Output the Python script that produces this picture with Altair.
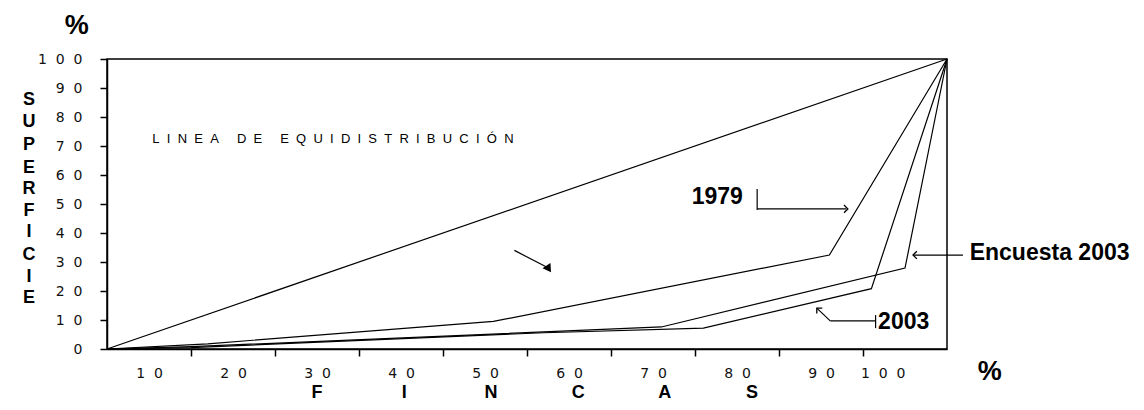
import altair as alt
import pandas as pd

# ---------------- data (% fincas on x, % superficie on y) ----------------
eq_x = [0, 100]
eq_y = [0, 100]
c1979_x = [0, 12, 46, 86, 100]
c1979_y = [0, 1.8, 9.5, 32.4, 100]
enc_x = [0, 10, 66, 95, 100]
enc_y = [0, 0.8, 7.6, 27.9, 100]
c2003_x = [0, 10, 52, 71, 91, 100]
c2003_y = [0, 0.5, 5.6, 7.2, 20.8, 100]

x_ticks = [10, 20, 30, 40, 50, 60, 70, 80, 90, 100]
y_ticks = [0, 10, 20, 30, 40, 50, 60, 70, 80, 90, 100]

# axis title letters
y_title_letters = list("SUPERFICIE")
x_title_letters = list("FINCAS")

# annotation texts
lab_1979 = "1979"
lab_enc = "Encuesta 2003"
lab_2003 = "2003"
lab_eq = "LINEA DE EQUIDISTRIBUCIÓN"

NB = "\u00a0"

rows = []
for name, xs, ys in [("eq", eq_x, eq_y), ("1979", c1979_x, c1979_y),
                     ("enc", enc_x, enc_y), ("2003", c2003_x, c2003_y)]:
    for i, (a, b) in enumerate(zip(xs, ys)):
        rows.append({"serie": name, "x": a, "y": b, "o": i})
df = pd.DataFrame(rows)

FONT = "Liberation Sans"
spaced = "join(split(datum.label, ''), '" + NB + NB + "')"

X_AXIS = alt.Axis(
    values=x_ticks, title=None, grid=False, labelOverlap=False,
    labelExpr=spaced,
    labelOffset=-42, labelPadding=10, tickSize=7, tickWidth=1.5,
    tickColor={"condition": {"test": "datum.value == 100", "value": "transparent"}, "value": "black"},
    domainColor="black", domainWidth=1.5,
    labelFont="DejaVu Sans", labelFontSize=14, labelColor="#111")
Y_AXIS = alt.Axis(
    values=y_ticks, title=None, grid=False, labelOverlap=False,
    labelExpr=spaced,
    labelPadding=18, tickSize=7, tickWidth=1.5, tickColor="black",
    domainColor="black", domainWidth=1.5,
    labelFont="DejaVu Sans", labelFontSize=14, labelColor="#111")
XS = alt.Scale(domain=[0, 100], nice=False, zero=False)
YS = alt.Scale(domain=[0, 100], nice=False, zero=False)


def X(f):
    return alt.X(f, type="quantitative", scale=XS, axis=X_AXIS)


def Y(f):
    return alt.Y(f, type="quantitative", scale=YS, axis=Y_AXIS)


lines = alt.Chart(df).mark_line(color="black", strokeWidth=1.2).encode(
    x=X("x"), y=Y("y"), detail="serie:N", order="o:Q")

# --- annotation layers ---
ann_pos = pd.DataFrame({
    "t": [lab_1979, lab_enc, lab_2003],
    "x": [69.6, 102.7, 91.8],
    "y": [52.4, 33.1, 9.3],
})
ann = alt.Chart(ann_pos).mark_text(font=FONT, fontWeight="bold", fontSize=23,
                                   align="left", baseline="middle", color="black").encode(
    x=X("x"), y=Y("y"), text="t:N")

pct = pd.DataFrame({"t": ["%", "%"], "x": [-3.6, 105.1], "y": [111.4, -7.9]})
pct_txt = alt.Chart(pct).mark_text(font=FONT, fontWeight="bold", fontSize=27,
                                   align="center", baseline="middle", color="black").encode(
    x=X("x"), y=Y("y"), text="t:N")

ytl = pd.DataFrame({"t": y_title_letters, "x": [-9.3] * 10,
                    "y": [85.9, 78.3, 70.3, 62.4, 55.2, 47.6, 40.3, 32.4, 24.8, 17.6]})
xtl = pd.DataFrame({"t": x_title_letters, "x": [25, 35.4, 45.7, 56.1, 66.4, 76.8],
                    "y": [-15.3] * 6})
letters = alt.Chart(pd.concat([ytl, xtl])).mark_text(font=FONT, fontWeight="bold", fontSize=18,
                                                     align="center", baseline="middle",
                                                     color="black").encode(
    x=X("x"), y=Y("y"), text="t:N")

eq_text = (NB * 5).join((NB * 2).join(list(w)) for w in lab_eq.split(" "))
eq_df = pd.DataFrame({"t": [eq_text], "x": [5.4], "y": [72.4]})
eq_lab = alt.Chart(eq_df).mark_text(font=FONT, fontSize=13, align="left",
                                    baseline="middle", color="black").encode(
    x=X("x"), y=Y("y"), text="t:N")

# leader lines for the labels
seg = pd.DataFrame({
    "x": [77.4, 77.4, 95.95, 91.5, 91.5, 86.1, 48.5],
    "y": [55.2, 48.3, 32.4, 11.7, 9.7, 9.7, 34.0],
    "x2": [77.4, 88.0, 101.9, 91.5, 86.1, 84.5, 52.5],
    "y2": [47.9, 48.3, 32.4, 7.2, 9.7, 14.1, 28.0],
})
leaders = alt.Chart(seg).mark_rule(color="black", strokeWidth=1.2).encode(
    x=X("x"), y=Y("y"), x2="x2:Q", y2="y2:Q")

chev = pd.DataFrame({"x": [88.2, 95.95, 84.5], "y": [48.3, 32.4, 14.1], "a": [180, 0, 45]})
chevrons = alt.Chart(chev).mark_point(shape="M 1 -1 L 0 0 L 1 1", filled=False,
                                      color="black", strokeWidth=1.3, size=60, opacity=1).encode(
    x=X("x"), y=Y("y"), angle=alt.Angle("a:Q", scale=None))

head = pd.DataFrame({"x": [52.5], "y": [28.0], "a": [146]})
arrowhead = alt.Chart(head).mark_point(shape="triangle", filled=True, color="black",
                                       size=90, opacity=1).encode(
    x=X("x"), y=Y("y"), angle=alt.Angle("a:Q", scale=None))

chart = alt.layer(lines, leaders, chevrons, arrowhead, ann, pct_txt, letters, eq_lab).properties(
    width=840, height=290,
    autosize=alt.AutoSizeParams(type="none"),
    padding={"left": 99, "top": 51, "right": 189, "bottom": 53},
    background="white",
).configure_view(stroke="black", strokeWidth=1.5)

chart.save("out.html", embed_options={"renderer": "svg", "actions": False})
